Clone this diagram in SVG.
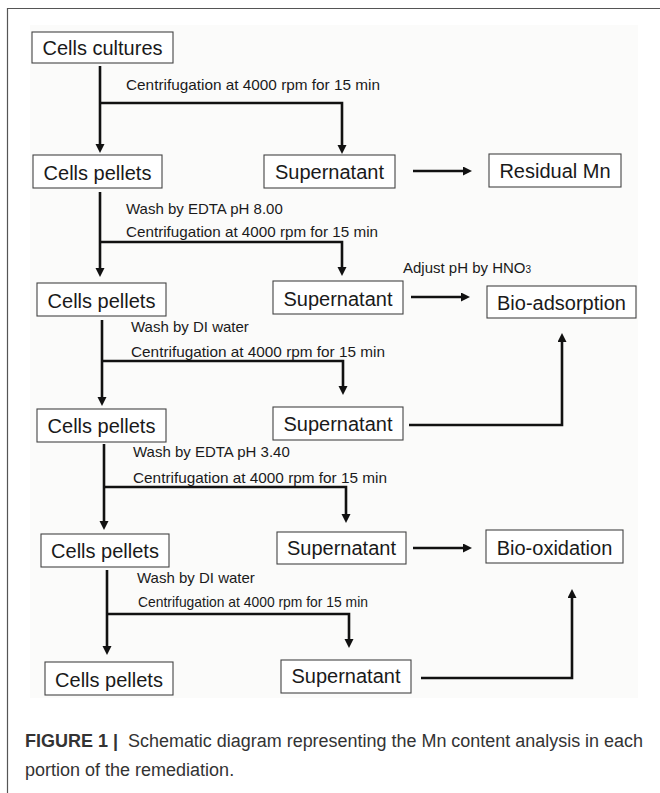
<svg xmlns="http://www.w3.org/2000/svg" width="660" height="793" viewBox="0 0 660 793">
<style>
.box rect{fill:#fff;stroke:#444;stroke-width:1.1}
.box text{font-family:"Liberation Sans",Arial,sans-serif;font-size:20px;fill:#1a1a1a;text-anchor:middle}
.lbl{font-family:"Liberation Sans",Arial,sans-serif;font-size:15px;fill:#1a1a1a}
.con path{fill:none;stroke:#111;stroke-width:2.6;marker-end:url(#ah)}
.con path.nm{marker-end:none}
.cap{font-family:"Liberation Sans",Arial,sans-serif;font-size:18px;fill:#333}
</style>
<defs>
<marker id="ah" markerWidth="10" markerHeight="10" refX="0" refY="4.5" orient="auto" markerUnits="userSpaceOnUse">
<path d="M0,0 L9,4.5 L0,9 z" fill="#111"/>
</marker>
</defs>
<rect width="660" height="793" fill="#fff"/>
<path d="M7.5,793 V8.5 H660" fill="none" stroke="#555" stroke-width="1.2"/>
<rect x="30" y="25" width="608" height="673" fill="#fbfbfa"/>

<g class="con" id="connectors">
<path d="M100,66 V144"/>
<path d="M100,103 H342 V145"/>
<path d="M413,171 H463"/>
<path d="M100,192 V268"/>
<path d="M100,242 H342 V267"/>
<path d="M411,297 H461"/>
<path d="M102,320 V397"/>
<path d="M102,361 H343 V386"/>
<path d="M409,425 H562 V342"/>
<path d="M104,444 V521"/>
<path d="M104,487 H346 V514"/>
<path d="M413,548 H463"/>
<path d="M107,570 V646"/>
<path d="M107,614 H349 V639"/>
<path d="M421,678 H572 V598"/>
</g>

<g id="labels">
<text class="lbl" x="126" y="90" textLength="254" lengthAdjust="spacingAndGlyphs">Centrifugation at 4000 rpm for 15 min</text>
<text class="lbl" x="126" y="214">Wash by EDTA pH 8.00</text>
<text class="lbl" x="126" y="237" textLength="252" lengthAdjust="spacingAndGlyphs">Centrifugation at 4000 rpm for 15 min</text>
<text class="lbl" x="403" y="273">Adjust pH by HNO<tspan font-size="10">3</tspan></text>
<text class="lbl" x="131" y="332">Wash by DI water</text>
<text class="lbl" x="131" y="357" textLength="254" lengthAdjust="spacingAndGlyphs">Centrifugation at 4000 rpm for 15 min</text>
<text class="lbl" x="133" y="457">Wash by EDTA pH 3.40</text>
<text class="lbl" x="133" y="483" textLength="254" lengthAdjust="spacingAndGlyphs">Centrifugation at 4000 rpm for 15 min</text>
<text class="lbl" x="137" y="583" font-size="14">Wash by DI water</text>
<text class="lbl" x="138" y="607" font-size="14" textLength="230" lengthAdjust="spacingAndGlyphs">Centrifugation at 4000 rpm for 15 min</text>
</g>

<g class="box" id="cells-cultures"><rect x="32" y="32" width="141" height="31"/><text x="102.5" y="55">Cells cultures</text></g>
<g class="box" id="cells-pellets-1"><rect x="33" y="155" width="129" height="33"/><text x="97.5" y="180">Cells pellets</text></g>
<g class="box" id="supernatant-1"><rect x="264" y="155" width="131" height="33"/><text x="329.5" y="179">Supernatant</text></g>
<g class="box" id="residual-mn"><rect x="489" y="154" width="132" height="33"/><text x="555" y="178">Residual Mn</text></g>
<g class="box" id="cells-pellets-2"><rect x="37" y="283" width="129" height="33"/><text x="101.5" y="308">Cells pellets</text></g>
<g class="box" id="supernatant-2"><rect x="273" y="281" width="130" height="33"/><text x="338" y="306">Supernatant</text></g>
<g class="box" id="bio-adsorption"><rect x="487" y="286" width="149" height="32"/><text x="561.5" y="310">Bio-adsorption</text></g>
<g class="box" id="cells-pellets-3"><rect x="37" y="409" width="129" height="33"/><text x="101.5" y="433">Cells pellets</text></g>
<g class="box" id="supernatant-3"><rect x="273" y="407" width="130" height="33"/><text x="338" y="431">Supernatant</text></g>
<g class="box" id="cells-pellets-4"><rect x="41" y="534" width="128" height="33"/><text x="105" y="558">Cells pellets</text></g>
<g class="box" id="supernatant-4"><rect x="277" y="532" width="129" height="32"/><text x="341.5" y="555">Supernatant</text></g>
<g class="box" id="bio-oxidation"><rect x="486" y="530" width="137" height="33"/><text x="554.5" y="555">Bio-oxidation</text></g>
<g class="box" id="cells-pellets-5"><rect x="45" y="662" width="128" height="33"/><text x="109" y="687">Cells pellets</text></g>
<g class="box" id="supernatant-5"><rect x="281" y="660" width="130" height="33"/><text x="346" y="683">Supernatant</text></g>

<g id="caption">
<text class="cap" x="25" y="747" font-weight="bold" fill="#222">FIGURE 1</text>
<text class="cap" x="113" y="747" font-weight="bold" fill="#222">|</text>
<text class="cap" x="128" y="747" textLength="515" lengthAdjust="spacingAndGlyphs">Schematic diagram representing the Mn content analysis in each</text>
<text class="cap" x="25" y="776">portion of the remediation.</text>
</g>
</svg>
